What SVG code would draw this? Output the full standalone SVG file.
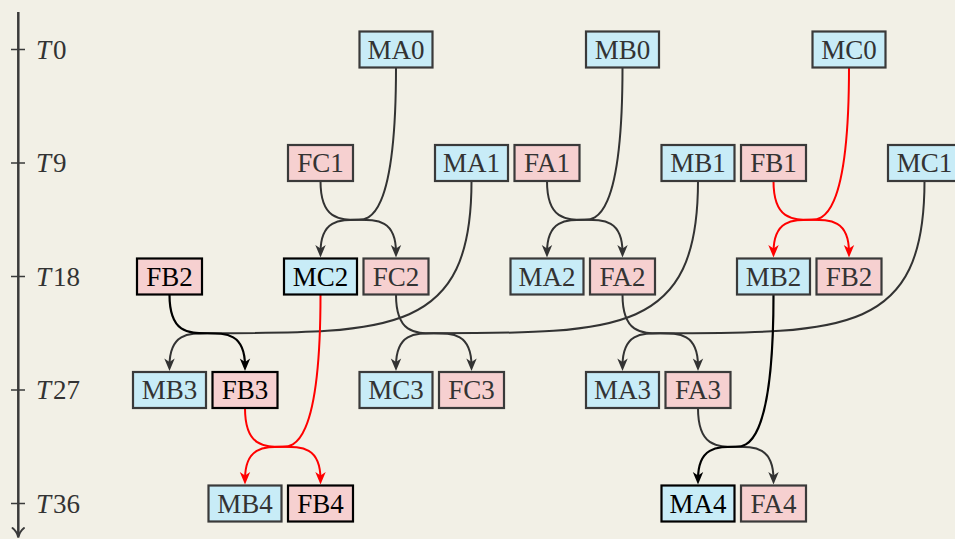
<svg xmlns="http://www.w3.org/2000/svg" width="955" height="539" viewBox="0 0 955 539">
<defs>
<style>
.bg{fill:#f2f0e6}
.node rect{stroke-width:2.2}
.m rect{fill:#c8ecf7}
.f rect{fill:#f6d0d0}
.g rect{stroke:#3a3a3a}
.k rect{stroke:#000}
.node text{font-family:"Liberation Serif","Times New Roman",serif;font-size:27px;text-anchor:middle}
.g text{fill:#333}
.k text{fill:#000}
.e{fill:none;stroke-width:2}
.eg{stroke:#333}
.er{stroke:#ff0000}
.ek{stroke:#000;stroke-width:2.2}
.axis{stroke:#3a3a3a;fill:none}
.tl{font-family:"Liberation Serif","Times New Roman",serif;font-size:27px;fill:#333}
</style>
<marker id="ag" markerUnits="userSpaceOnUse" viewBox="-10 -10 20 20" markerWidth="20" markerHeight="20" refX="0" refY="0" orient="auto" overflow="visible"><path d="M5,0 L-7.5,-5.2 L-4,0 L-7.5,5.2 Z" fill="#333"/></marker>
<marker id="ar" markerUnits="userSpaceOnUse" viewBox="-10 -10 20 20" markerWidth="20" markerHeight="20" refX="0" refY="0" orient="auto" overflow="visible"><path d="M5,0 L-7.5,-5.2 L-4,0 L-7.5,5.2 Z" fill="#ff0000"/></marker>
<marker id="ak" markerUnits="userSpaceOnUse" viewBox="-10 -10 20 20" markerWidth="20" markerHeight="20" refX="0" refY="0" orient="auto" overflow="visible"><path d="M5,0 L-7.5,-5.2 L-4,0 L-7.5,5.2 Z" fill="#000"/></marker>
</defs>
<rect class="bg" x="0" y="0" width="955" height="539"/>

<g id="time-axis">
<path class="axis" stroke-width="2.5" d="M18.3,12 V536"/>
<path class="axis" stroke-width="2" stroke-linecap="round" d="M12.5,528 Q17,531.5 18.3,537.5 Q19.6,531.5 24,528"/>
<path class="axis" stroke-width="1.4" d="M11,49.5 H25 M11,163 H25 M11,276.5 H25 M11,390 H25 M11,503.5 H25"/>
<text class="tl" x="36" y="58.5"><tspan font-style="italic">T</tspan><tspan dx="2">0</tspan></text>
<text class="tl" x="36" y="172"><tspan font-style="italic">T</tspan><tspan dx="2">9</tspan></text>
<text class="tl" x="36" y="285.5"><tspan font-style="italic">T</tspan><tspan dx="2">18</tspan></text>
<text class="tl" x="36" y="399"><tspan font-style="italic">T</tspan><tspan dx="2">27</tspan></text>
<text class="tl" x="36" y="512.5"><tspan font-style="italic">T</tspan><tspan dx="2">36</tspan></text>
</g>

<g id="connectors">
<path class="e eg" marker-end="url(#ag)" d="M320.5,181 C320.5,219.75 339.4,219.75 358.25,219.75 C377.1,219.75 396,219.75 396,252.5"/>
<path class="e eg" marker-end="url(#ag)" d="M396,67.5 C396,219.75 368.25,219.75 358.25,219.75 C339.4,219.75 320.5,219.75 320.5,252.5"/>
<path class="e eg" marker-end="url(#ag)" d="M547,181 C547,219.75 565.9,219.75 584.75,219.75 C603.6,219.75 622.5,219.75 622.5,252.5"/>
<path class="e eg" marker-end="url(#ag)" d="M622.5,67.5 C622.5,219.75 594.75,219.75 584.75,219.75 C565.9,219.75 547,219.75 547,252.5"/>
<path class="e er" marker-end="url(#ar)" d="M773.5,181 C773.5,219.75 792.4,219.75 811.25,219.75 C830.1,219.75 849,219.75 849,252.5"/>
<path class="e er" marker-end="url(#ar)" d="M849,67.5 C849,219.75 821.25,219.75 811.25,219.75 C792.4,219.75 773.5,219.75 773.5,252.5"/>
<path class="e eg" marker-end="url(#ag)" d="M471.5,181 C471.5,333.25 393.5,333.25 207.25,333.25 C188.4,333.25 169.5,333.25 169.5,366"/>
<path class="e ek" marker-end="url(#ak)" d="M169.5,294.5 C169.5,333.25 188.4,333.25 207.25,333.25 C226.1,333.25 245,333.25 245,366"/>
<path class="e eg" marker-end="url(#ag)" d="M396,294.5 C396,333.25 414.9,333.25 433.75,333.25 C452.6,333.25 471.5,333.25 471.5,366"/>
<path class="e eg" marker-end="url(#ag)" d="M698,181 C698,333.25 620,333.25 433.75,333.25 C414.9,333.25 396,333.25 396,366"/>
<path class="e eg" marker-end="url(#ag)" d="M622.5,294.5 C622.5,333.25 641.4,333.25 660.25,333.25 C679.1,333.25 698,333.25 698,366"/>
<path class="e eg" marker-end="url(#ag)" d="M924.5,181 C924.5,333.25 846.5,333.25 660.25,333.25 C641.4,333.25 622.5,333.25 622.5,366"/>
<path class="e er" marker-end="url(#ar)" d="M245,408 C245,446.75 263.9,446.75 282.75,446.75 C301.6,446.75 320.5,446.75 320.5,479.5"/>
<path class="e er" marker-end="url(#ar)" d="M320.5,294.5 C320.5,446.75 292.75,446.75 282.75,446.75 C263.9,446.75 245,446.75 245,479.5"/>
<path class="e eg" marker-end="url(#ag)" d="M698,408 C698,446.75 716.9,446.75 735.75,446.75 C754.6,446.75 773.5,446.75 773.5,479.5"/>
<path class="e ek" marker-end="url(#ak)" d="M773.5,294.5 C773.5,446.75 745.75,446.75 735.75,446.75 C716.9,446.75 698,446.75 698,479.5"/>
</g>

<g id="MA0" class="node m g"><rect x="359.5" y="31.5" width="73" height="36"/><text x="396" y="58.5">MA0</text></g>
<g id="MB0" class="node m g"><rect x="586" y="31.5" width="73" height="36"/><text x="622.5" y="58.5">MB0</text></g>
<g id="MC0" class="node m g"><rect x="812.5" y="31.5" width="73" height="36"/><text x="849" y="58.5">MC0</text></g>

<g id="FC1" class="node f g"><rect x="288" y="145" width="65" height="36"/><text x="320.5" y="172">FC1</text></g>
<g id="MA1" class="node m g"><rect x="435" y="145" width="73" height="36"/><text x="471.5" y="172">MA1</text></g>
<g id="FA1" class="node f g"><rect x="514.5" y="145" width="65" height="36"/><text x="547" y="172">FA1</text></g>
<g id="MB1" class="node m g"><rect x="661.5" y="145" width="73" height="36"/><text x="698" y="172">MB1</text></g>
<g id="FB1" class="node f g"><rect x="741" y="145" width="65" height="36"/><text x="773.5" y="172">FB1</text></g>
<g id="MC1" class="node m g"><rect x="888" y="145" width="73" height="36"/><text x="924.5" y="172">MC1</text></g>

<g id="FB2-left" class="node f k"><rect x="137" y="258.5" width="65" height="36"/><text x="169.5" y="285.5">FB2</text></g>
<g id="MC2" class="node m k"><rect x="284" y="258.5" width="73" height="36"/><text x="320.5" y="285.5">MC2</text></g>
<g id="FC2" class="node f g"><rect x="363.5" y="258.5" width="65" height="36"/><text x="396" y="285.5">FC2</text></g>
<g id="MA2" class="node m g"><rect x="510.5" y="258.5" width="73" height="36"/><text x="547" y="285.5">MA2</text></g>
<g id="FA2" class="node f g"><rect x="590" y="258.5" width="65" height="36"/><text x="622.5" y="285.5">FA2</text></g>
<g id="MB2" class="node m g"><rect x="737" y="258.5" width="73" height="36"/><text x="773.5" y="285.5">MB2</text></g>
<g id="FB2-right" class="node f g"><rect x="816.5" y="258.5" width="65" height="36"/><text x="849" y="285.5">FB2</text></g>

<g id="MB3" class="node m g"><rect x="133" y="372" width="73" height="36"/><text x="169.5" y="399">MB3</text></g>
<g id="FB3" class="node f k"><rect x="212.5" y="372" width="65" height="36"/><text x="245" y="399">FB3</text></g>
<g id="MC3" class="node m g"><rect x="359.5" y="372" width="73" height="36"/><text x="396" y="399">MC3</text></g>
<g id="FC3" class="node f g"><rect x="439" y="372" width="65" height="36"/><text x="471.5" y="399">FC3</text></g>
<g id="MA3" class="node m g"><rect x="586" y="372" width="73" height="36"/><text x="622.5" y="399">MA3</text></g>
<g id="FA3" class="node f g"><rect x="665.5" y="372" width="65" height="36"/><text x="698" y="399">FA3</text></g>

<g id="MB4" class="node m g"><rect x="208.5" y="485.5" width="73" height="36"/><text x="245" y="512.5">MB4</text></g>
<g id="FB4" class="node f k"><rect x="288" y="485.5" width="65" height="36"/><text x="320.5" y="512.5">FB4</text></g>
<g id="MA4" class="node m k"><rect x="661.5" y="485.5" width="73" height="36"/><text x="698" y="512.5">MA4</text></g>
<g id="FA4" class="node f g"><rect x="741" y="485.5" width="65" height="36"/><text x="773.5" y="512.5">FA4</text></g>
</svg>
